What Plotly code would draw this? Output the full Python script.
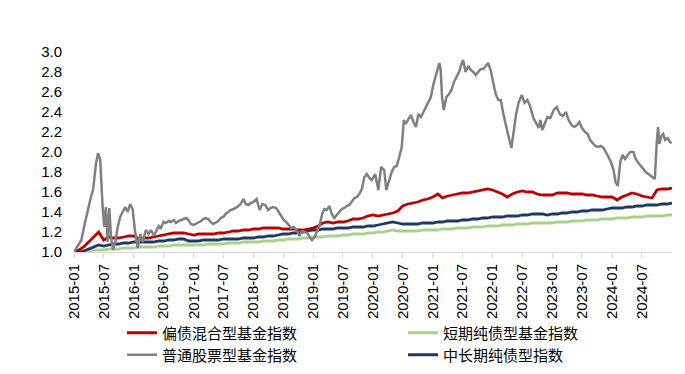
import pandas as pd
import plotly.graph_objects as go

# ---- data ----
months = pd.date_range("2015-01-01", periods=121, freq="MS")

red_vals = [1.00, 1.02, 1.05, 1.10, 1.15, 1.20, 1.12, 1.15, 1.14, 1.14, 1.15, 1.16,
            1.16, 1.13, 1.14, 1.14, 1.15, 1.16, 1.17, 1.18, 1.19, 1.19, 1.19, 1.18,
            1.17, 1.18, 1.18, 1.18, 1.18, 1.19, 1.19, 1.20, 1.21, 1.21, 1.22, 1.22,
            1.23, 1.23, 1.24, 1.24, 1.24, 1.24, 1.23, 1.23, 1.23, 1.22, 1.22, 1.23,
            1.24, 1.26, 1.29, 1.30, 1.29, 1.30, 1.30, 1.31, 1.33, 1.33, 1.34, 1.36,
            1.37, 1.36, 1.37, 1.38, 1.39, 1.41, 1.46, 1.48, 1.49, 1.50, 1.52, 1.53,
            1.55, 1.58, 1.54, 1.56, 1.57, 1.58, 1.59, 1.59, 1.60, 1.61, 1.62, 1.63,
            1.62, 1.60, 1.58, 1.55, 1.58, 1.60, 1.61, 1.60, 1.60, 1.58, 1.57, 1.57,
            1.57, 1.59, 1.59, 1.59, 1.58, 1.58, 1.58, 1.57, 1.57, 1.56, 1.55, 1.55,
            1.55, 1.52, 1.55, 1.57, 1.59, 1.58, 1.56, 1.55, 1.54, 1.62, 1.63, 1.63,
            1.64]

navy_vals = [1.00, 1.00, 1.01, 1.03, 1.05, 1.07, 1.06, 1.07, 1.08, 1.08, 1.09, 1.09,
             1.10, 1.10, 1.10, 1.10, 1.10, 1.11, 1.11, 1.12, 1.12, 1.13, 1.13, 1.11,
             1.11, 1.11, 1.12, 1.12, 1.12, 1.12, 1.13, 1.13, 1.13, 1.13, 1.14, 1.14,
             1.14, 1.15, 1.15, 1.16, 1.16, 1.17, 1.18, 1.18, 1.19, 1.19, 1.20, 1.21,
             1.22, 1.22, 1.23, 1.23, 1.23, 1.24, 1.24, 1.24, 1.25, 1.25, 1.25, 1.26,
             1.26, 1.27, 1.28, 1.29, 1.30, 1.29, 1.28, 1.28, 1.28, 1.28, 1.29, 1.29,
             1.29, 1.30, 1.30, 1.31, 1.31, 1.31, 1.32, 1.32, 1.33, 1.33, 1.34, 1.34,
             1.35, 1.35, 1.35, 1.36, 1.36, 1.36, 1.37, 1.37, 1.38, 1.38, 1.38, 1.37,
             1.38, 1.38, 1.39, 1.39, 1.40, 1.40, 1.41, 1.41, 1.42, 1.42, 1.42, 1.43,
             1.44, 1.44, 1.44, 1.45, 1.45, 1.46, 1.46, 1.47, 1.47, 1.47, 1.48, 1.48,
             1.49]

green_vals = [1.00, 1.00, 1.01, 1.01, 1.02, 1.02, 1.02, 1.03, 1.03, 1.03, 1.04, 1.04,
              1.04, 1.05, 1.05, 1.05, 1.05, 1.06, 1.06, 1.06, 1.07, 1.07, 1.07, 1.07,
              1.07, 1.07, 1.07, 1.08, 1.08, 1.08, 1.08, 1.09, 1.09, 1.09, 1.10, 1.10,
              1.10, 1.10, 1.11, 1.11, 1.11, 1.12, 1.12, 1.13, 1.13, 1.13, 1.14, 1.14,
              1.15, 1.15, 1.15, 1.16, 1.16, 1.16, 1.17, 1.17, 1.18, 1.18, 1.18, 1.19,
              1.19, 1.20, 1.20, 1.21, 1.22, 1.21, 1.21, 1.21, 1.21, 1.21, 1.22, 1.22,
              1.22, 1.22, 1.23, 1.23, 1.23, 1.24, 1.24, 1.24, 1.25, 1.25, 1.25, 1.26,
              1.26, 1.26, 1.27, 1.27, 1.27, 1.28, 1.28, 1.28, 1.29, 1.29, 1.29, 1.29,
              1.29, 1.30, 1.30, 1.30, 1.31, 1.31, 1.31, 1.32, 1.32, 1.32, 1.33, 1.33,
              1.33, 1.34, 1.34, 1.34, 1.35, 1.35, 1.35, 1.36, 1.36, 1.36, 1.36, 1.37,
              1.37]

grey_dates = [
    "2015-01-01", "2015-01-20", "2015-02-15", "2015-03-10", "2015-03-25", "2015-04-10",
    "2015-04-28", "2015-05-15", "2015-05-28", "2015-06-10", "2015-06-25", "2015-07-05",
    "2015-07-15", "2015-07-25", "2015-08-05", "2015-08-15", "2015-08-28", "2015-09-10",
    "2015-09-25", "2015-10-10", "2015-10-25", "2015-11-10", "2015-11-25", "2015-12-10",
    "2015-12-25", "2016-01-08", "2016-01-25", "2016-02-10", "2016-02-25", "2016-03-15",
    "2016-04-01", "2016-04-15", "2016-05-01", "2016-05-15", "2016-06-01", "2016-06-15",
    "2016-07-01", "2016-07-15", "2016-08-01", "2016-08-15", "2016-09-01", "2016-09-15",
    "2016-10-01", "2016-10-15", "2016-11-01", "2016-11-15", "2016-12-01", "2016-12-15",
    "2017-01-01", "2017-01-15", "2017-02-01", "2017-02-15", "2017-03-01", "2017-03-15",
    "2017-04-01", "2017-04-15", "2017-05-01", "2017-05-15", "2017-06-01", "2017-06-15",
    "2017-07-01", "2017-07-15", "2017-08-01", "2017-08-15", "2017-09-01", "2017-09-15",
    "2017-10-01", "2017-10-15", "2017-11-01", "2017-11-15", "2017-12-01", "2017-12-15",
    "2018-01-01", "2018-01-20", "2018-02-08", "2018-02-25", "2018-03-15", "2018-04-01",
    "2018-04-15", "2018-05-01", "2018-05-20", "2018-06-05", "2018-06-20", "2018-07-05",
    "2018-07-20", "2018-08-05", "2018-08-20", "2018-09-05", "2018-09-20", "2018-10-10",
    "2018-10-25", "2018-11-10", "2018-11-25", "2018-12-10", "2018-12-25", "2019-01-10",
    "2019-01-25", "2019-02-10", "2019-02-25", "2019-03-10", "2019-03-25", "2019-04-10",
    "2019-04-25", "2019-05-10", "2019-05-25", "2019-06-10", "2019-06-25", "2019-07-10",
    "2019-07-25", "2019-08-10", "2019-08-25", "2019-09-10", "2019-09-25", "2019-10-10",
    "2019-10-25", "2019-11-10", "2019-11-25", "2019-12-10", "2019-12-25", "2020-01-15",
    "2020-02-03", "2020-02-20", "2020-03-10", "2020-03-23", "2020-04-10", "2020-04-25",
    "2020-05-10", "2020-05-25", "2020-06-10", "2020-06-25", "2020-07-08", "2020-07-20",
    "2020-08-05", "2020-08-20", "2020-09-05", "2020-09-20", "2020-10-05", "2020-10-20",
    "2020-11-05", "2020-11-20", "2020-12-05", "2020-12-20", "2021-01-05", "2021-01-20",
    "2021-02-10", "2021-02-18", "2021-02-26", "2021-03-09", "2021-03-25", "2021-04-10",
    "2021-04-25", "2021-05-10", "2021-05-25", "2021-06-10", "2021-06-25", "2021-07-05",
    "2021-07-20", "2021-08-05", "2021-08-20", "2021-09-05", "2021-09-20", "2021-10-05",
    "2021-10-20", "2021-11-05", "2021-11-20", "2021-12-05", "2021-12-20", "2022-01-05",
    "2022-01-20", "2022-02-05", "2022-02-20", "2022-03-08", "2022-03-20", "2022-04-05",
    "2022-04-26", "2022-05-10", "2022-05-25", "2022-06-10", "2022-06-28", "2022-07-15",
    "2022-08-01", "2022-08-18", "2022-09-05", "2022-09-20", "2022-10-10", "2022-10-20",
    "2022-11-01", "2022-11-15", "2022-12-01", "2022-12-20", "2023-01-10", "2023-01-28",
    "2023-02-15", "2023-03-05", "2023-03-25", "2023-04-10", "2023-04-28", "2023-05-15",
    "2023-06-01", "2023-06-15", "2023-07-01", "2023-07-20", "2023-08-05", "2023-08-20",
    "2023-09-05", "2023-09-20", "2023-10-10", "2023-10-25", "2023-11-10", "2023-11-25",
    "2023-12-10", "2023-12-25", "2024-01-10", "2024-01-22", "2024-02-05", "2024-02-20",
    "2024-03-05", "2024-03-20", "2024-04-05", "2024-04-20", "2024-05-10", "2024-05-25",
    "2024-06-10", "2024-06-25", "2024-07-10", "2024-07-25", "2024-08-10", "2024-08-25",
    "2024-09-18", "2024-09-30", "2024-10-08", "2024-10-15", "2024-10-28", "2024-11-08",
    "2024-11-20", "2024-12-05", "2024-12-20", "2024-12-31",
]

grey_vals = [
    1.00, 1.05, 1.12, 1.30, 1.42, 1.52,
    1.63, 1.88, 1.99, 1.92, 1.45, 1.25,
    1.45, 1.10, 1.44, 1.15, 1.02, 1.10,
    1.25, 1.35, 1.40, 1.45, 1.40, 1.48,
    1.43, 1.22, 1.04, 1.18, 1.10, 1.22,
    1.18, 1.22, 1.17, 1.20, 1.26, 1.24,
    1.30, 1.29, 1.31, 1.30, 1.32, 1.29,
    1.31, 1.32, 1.33, 1.34, 1.32, 1.28,
    1.27, 1.28, 1.30, 1.31, 1.33, 1.34,
    1.33, 1.30, 1.28, 1.29, 1.31, 1.34,
    1.35, 1.38, 1.40, 1.42, 1.43, 1.44,
    1.46, 1.48, 1.53, 1.48, 1.47, 1.49,
    1.50, 1.53, 1.42, 1.48, 1.47, 1.42,
    1.44, 1.45, 1.44, 1.40, 1.35, 1.32,
    1.30, 1.27, 1.24, 1.25, 1.22, 1.16,
    1.21, 1.20, 1.19, 1.15, 1.12, 1.15,
    1.20, 1.27, 1.38, 1.43, 1.42, 1.46,
    1.38, 1.34, 1.37, 1.40, 1.43, 1.44,
    1.46, 1.47, 1.51, 1.54, 1.55, 1.58,
    1.63, 1.75, 1.78, 1.74, 1.72, 1.78,
    1.62, 1.85, 1.82, 1.62, 1.72, 1.80,
    1.85, 1.86, 1.95, 2.05, 2.32, 2.28,
    2.33, 2.37, 2.30, 2.25, 2.38, 2.35,
    2.40, 2.45, 2.49, 2.55, 2.68, 2.78,
    2.89, 2.82, 2.55, 2.42, 2.55, 2.58,
    2.62, 2.70, 2.75, 2.80, 2.88, 2.92,
    2.80, 2.86, 2.82, 2.80, 2.77, 2.80,
    2.83, 2.83, 2.86, 2.89, 2.82, 2.70,
    2.58, 2.52, 2.52, 2.38, 2.28, 2.18,
    2.04, 2.22, 2.38, 2.50, 2.57, 2.49,
    2.52, 2.46, 2.35, 2.30, 2.24, 2.32,
    2.22, 2.28, 2.35, 2.34, 2.42, 2.45,
    2.38, 2.36, 2.40, 2.32, 2.27, 2.25,
    2.27, 2.30, 2.24, 2.20, 2.18, 2.12,
    2.09, 2.06, 2.05, 2.06, 2.04, 2.00,
    1.95, 1.90, 1.82, 1.70, 1.66, 1.90,
    1.97, 1.93, 1.97, 2.00, 2.00, 1.93,
    1.89, 1.86, 1.84, 1.80, 1.78, 1.76,
    1.73, 2.10, 2.25, 2.08, 2.16, 2.18,
    2.12, 2.14, 2.10, 2.09,
]

x_tick_vals = ["2015-01-01", "2015-07-01", "2016-01-01", "2016-07-01", "2017-01-01",
               "2017-07-01", "2018-01-01", "2018-07-01", "2019-01-01", "2019-07-01",
               "2020-01-01", "2020-07-01", "2021-01-01", "2021-07-01", "2022-01-01",
               "2022-07-01", "2023-01-01", "2023-07-01", "2024-01-01", "2024-07-01"]
x_tick_text = ["2015-01", "2015-07", "2016-01", "2016-07", "2017-01", "2017-07",
               "2018-01", "2018-07", "2019-01", "2019-07", "2020-01", "2020-07",
               "2021-01", "2021-07", "2022-01", "2022-07", "2023-01", "2023-07",
               "2024-01", "2024-07"]
y_tick_vals = [1.0, 1.2, 1.4, 1.6, 1.8, 2.0, 2.2, 2.4, 2.6, 2.8, 3.0]
y_tick_text = ["1.0", "1.2", "1.4", "1.6", "1.8", "2.0", "2.2", "2.4", "2.6", "2.8", "3.0"]

names = ["偏债混合型基金指数", "短期纯债型基金指数", "普通股票型基金指数", "中长期纯债型指数"]
colors = ["#C00000", "#A9D18E", "#808080", "#203864"]

fig = go.Figure()
fig.add_trace(go.Scatter(x=months, y=green_vals, mode="lines", name=names[1],
                         line=dict(color=colors[1], width=2.8), legend="legend2"))
fig.add_trace(go.Scatter(x=months, y=navy_vals, mode="lines", name=names[3],
                         line=dict(color=colors[3], width=2.8), legend="legend4"))
fig.add_trace(go.Scatter(x=months, y=red_vals, mode="lines", name=names[0],
                         line=dict(color=colors[0], width=2.8), legend="legend"))
fig.add_trace(go.Scatter(x=grey_dates, y=grey_vals, mode="lines", name=names[2],
                         line=dict(color=colors[2], width=2.5), legend="legend3"))

leg_font = dict(family="Noto Sans CJK SC", size=15, color="#000000")
def leg(x, y):
    return dict(x=x, y=y, xanchor="left", yanchor="middle", orientation="v",
                font=leg_font, bgcolor="rgba(0,0,0,0)", borderwidth=0)

fig.update_layout(
    width=685, height=374,
    margin=dict(l=74, r=13, t=52, b=122, autoexpand=False),
    paper_bgcolor="white", plot_bgcolor="white",
    showlegend=True,
    legend=leg(0.0803, -0.405),
    legend2=leg(0.5502, -0.405),
    legend3=leg(0.0803, -0.515),
    legend4=leg(0.5502, -0.515),
    xaxis=dict(type="date", range=["2015-01-01", "2025-01-01"],
               tickmode="array", tickvals=x_tick_vals, ticktext=x_tick_text,
               tickangle=-90, ticks="outside", ticklen=5, tickcolor="#D9D9D9",
               showline=True, linecolor="#D9D9D9", linewidth=1,
               showgrid=False, zeroline=False,
               tickfont=dict(family="Liberation Sans", size=15, color="#000000")),
    yaxis=dict(range=[1.0, 3.0], tickmode="array", tickvals=y_tick_vals,
               ticktext=y_tick_text, showgrid=False, zeroline=False,
               showline=False, ticks="", ticklabelstandoff=11,
               tickfont=dict(family="Liberation Sans", size=15, color="#000000")),
)

fig.write_html("out.html", config={"displayModeBar": False},
               post_script="document.body.style.margin='0';document.body.style.padding='0';")
